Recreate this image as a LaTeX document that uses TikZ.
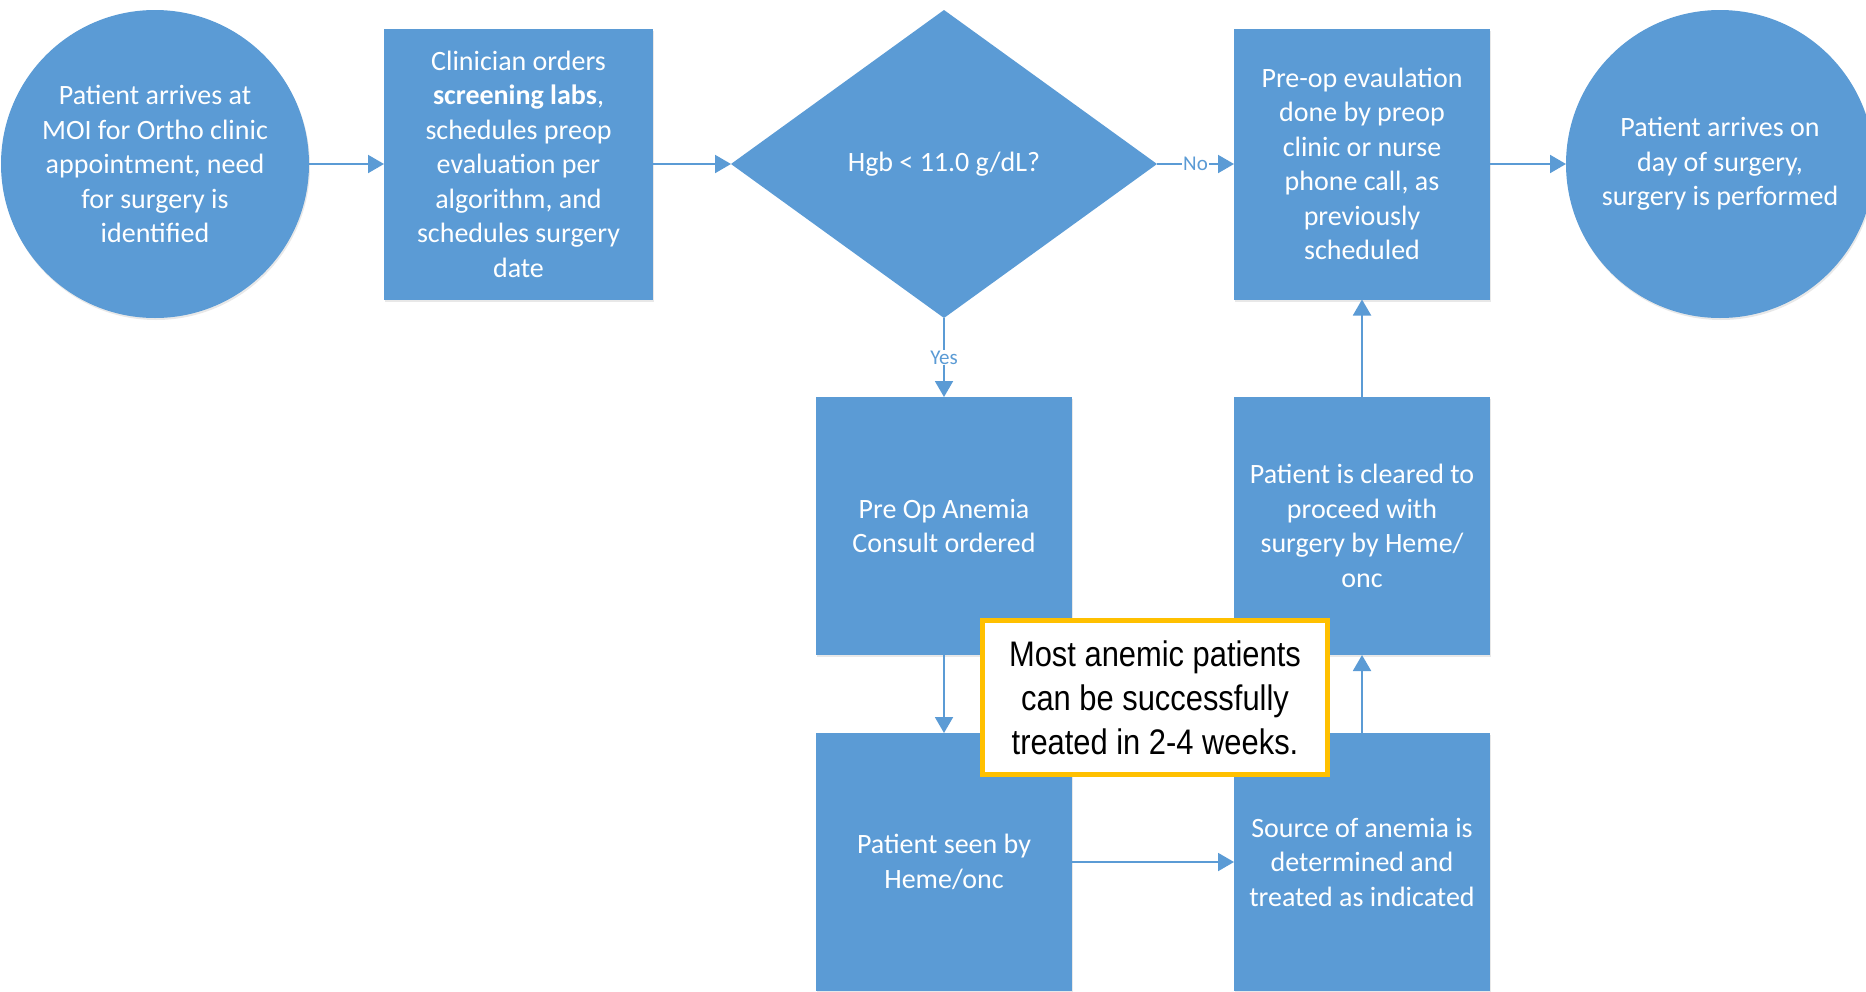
\documentclass[tikz,border=0pt]{standalone}
\usepackage{fontspec}
\setmainfont{Carlito}
\newfontfamily\calloutfont[FakeStretch=0.87]{Liberation Sans}
\usetikzlibrary{shapes.geometric,arrows.meta,shadows}
\definecolor{boxblue}{HTML}{5B9BD5}
\definecolor{gold}{HTML}{FFC000}
\begin{document}
\begin{tikzpicture}[x=1pt,y=-1pt,
  every node/.style={inner sep=0pt, outer sep=0pt},
  blkbase/.style={fill=boxblue, draw=none, text=white, align=center,
    font=\fontsize{28}{34.5}\selectfont},
  blk/.style={blkbase,
    drop shadow={shadow xshift=1pt,shadow yshift=-2pt,opacity=0.18}},
  rbox/.style={blk, rectangle, minimum width=256pt, minimum height=258pt},
  rnd/.style={blk, circle, minimum size=308pt},
  dia/.style={text=white, align=center, font=\fontsize{28}{34.5}\selectfont,
    diamond, minimum width=426pt, minimum height=308pt},
  conn/.style={draw=boxblue, line width=2pt, -{Triangle[length=16pt,width=18pt]}},
  lbl/.style={fill=white, text=boxblue, font=\fontsize{21}{25}\selectfont, inner sep=1pt},
  callout/.style={draw=gold, line width=5pt, fill=white, minimum width=345pt,
    minimum height=154pt, align=center, text=black,
    font=\calloutfont\fontsize{35.5}{44}\selectfont}
]
\useasboundingbox (0,0) rectangle (1866,991);
\node[rnd] (c1) at (155,164) {Patient arrives at\\MOI for Ortho clinic\\appointment, need\\for surgery is\\identified};
\node[rbox, minimum width=269pt, minimum height=271pt] (b2) at (518.5,164) {Clinician orders\\\textbf{screening labs},\\schedules preop\\evaluation per\\algorithm, and\\schedules surgery\\date};
\fill[boxblue] (731,164) -- (944,10) -- (1157,164) -- (944,318) -- cycle;
\node[dia] (d) at (944,164) {Hgb < 11.0 g/dL?};
\node[rbox, minimum height=271pt] (b3) at (1362,164) {Pre-op evaulation\\done by preop\\clinic or nurse\\phone call, as\\previously\\scheduled};
\node[rnd] (c2) at (1720,164) {Patient arrives on\\day of surgery,\\surgery is performed};
\node[rbox] (b4) at (944,526) {Pre Op Anemia\\Consult ordered};
\node[rbox] (b5) at (1362,526) {Patient is cleared to\\proceed with\\surgery by Heme/\\onc};
\node[rbox] (b6) at (944,862) {Patient seen by\\Heme/onc};
\node[rbox] (b7) at (1362,862) {Source of anemia is\\determined and\\treated as indicated};
\draw[conn] (c1) -- (b2);
\draw[conn] (b2) -- (d);
\draw[conn] (d) -- node[lbl]{No} (b3);
\draw[conn] (b3) -- (c2);
\draw[conn] (d) -- node[lbl]{Yes} (b4);
\draw[conn] (b4) -- (b6);
\draw[conn] (b6) -- (b7);
\draw[conn] (b7) -- (b5);
\draw[conn] (b5) -- (b3);
\node[callout] (note) at (1155,697.5) {Most anemic patients\\can be successfully\\treated in 2-4 weeks.};
\end{tikzpicture}
\end{document}
